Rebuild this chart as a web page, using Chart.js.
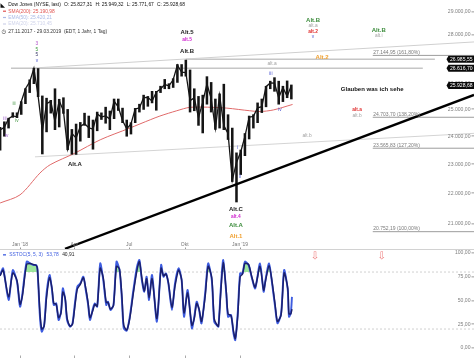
<!DOCTYPE html>
<html><head><meta charset="utf-8">
<script src="https://cdn.jsdelivr.net/npm/chart.js@4.4.1/dist/chart.umd.min.js"></script>
<style>
html,body{margin:0;padding:0;background:#fff;overflow:hidden}
#wrap{position:relative;width:474px;height:358px;background:#fff}
canvas{position:absolute;left:0}
#c1{top:0}
#c2{top:250px}
#sep{position:absolute;left:0;top:249px;width:474px;height:1px;background:#d2d2d2}
</style></head><body>
<div id="wrap"><canvas id="c1" width="474" height="249"></canvas><div id="sep"></div><canvas id="c2" width="474" height="108"></canvas></div>
<script>
// ---- data (x = days since 01.01.2018) ----
const weekDays = [-33,-26,-19,-12,-5,2,9,16,23,30,37,44,51,58,65,72,79,86,93,100,107,114,121,128,135,142,149,156,163,170,177,184,191,198,205,212,219,226,233,240,247,254,261,268,275,282,289,296,303,310,317,324,331,338,345,352,359,366,373,380,387,394,401,408,415,422,429,436,443,450];
const weekHigh = [24330,24534,24669,24876,24872,25300,25804,26154,26617,26608,25520,25432,25349,25800,25390,25450,25000,24250,24450,24510,24858,24750,24600,24900,24870,25086,24940,25400,25400,25050,24600,24500,25040,25200,25550,25500,25700,25700,25900,26170,26000,26200,26770,26770,26952,26550,25800,25500,25550,26280,26050,25400,25600,25980,24800,24300,23400,23500,24100,24750,24800,25250,25400,25900,26100,26240,26100,25900,26110,25950];
const weekLow = [23500,24000,24300,24700,24690,24810,25220,25650,26000,25490,23360,24160,24860,24240,24340,24850,23510,23350,23344,23820,24400,23950,23530,24200,24620,24480,24240,24650,24960,24500,24000,24080,24500,24900,25000,25120,25250,24970,25650,25800,25800,25850,26050,26300,26300,24900,24950,24400,24120,25200,24900,24250,24300,24240,23880,22400,21712,22638,23300,23900,24300,24500,24880,25100,25800,25700,25200,25300,25450,25400];
const weekClose = [24231,24329,24651,24754,24719,25295,25803,26071,26616,25520,24190,25219,25310,24538,25335,24946,23533,24103,23932,24360,24463,24311,24263,24831,24715,24753,24635,25317,25090,24581,24271,24456,25019,25058,25451,25463,25313,25669,25790,25965,25917,26155,26744,26458,26447,25340,25444,24688,25270,25989,25413,24285,25538,24389,24100,22445,23062,23433,23996,24706,24737,25064,25106,25883,26031,26026,25450,25849,25502,25929];

const smaDays = [-33,0,33,50,91,133,182,216,232,260,282,320,343,381,398,420,452];
const smaValues = [21680,21950,22690,22980,23390,23870,24300,24610,24750,24950,25080,25080,25050,24950,24920,24980,25191];

const stochDays = [-33,-28,-19,-12,-5,0,4,11,17,22,27,29,33,36,40,44,49,53,56,60,64,68,71,75,78,83,87,91,95,100,105,109,113,116,121,124,128,133,138,143,146,150,155,160,165,169,172,177,182,188,194,198,202,206,210,214,219,227,234,238,242,246,252,257,263,268,272,278,285,289,293,297,301,307,312,318,322,326,329,333,337,342,345,350,354,357,361,365,369,373,379,384,390,398,404,407,413,418,423,427,433,438,444,446,449,451];
const stochK = [76.9,83.9,50.5,82.1,69.8,43.5,57.6,90.9,89.1,87.4,87.4,82.1,33.0,17.2,24.2,57.6,76.9,61.1,45.3,47.0,29.5,38.3,62.8,50.5,29.5,22.5,26.0,47.0,64.6,68.1,75.1,61.1,45.3,29.5,41.8,47.0,43.5,89.1,71.6,45.3,48.8,40.0,45.3,90.9,82.1,50.5,20.7,18.3,33.0,61.1,85.6,92.6,71.6,59.3,75.1,50.5,76.9,27.7,87.4,75.1,78.6,68.1,40.0,68.1,83.9,71.6,33.0,61.1,20.7,33.0,48.8,40.0,26.0,57.6,89.1,71.6,27.7,24.2,22.5,62.8,92.6,57.6,33.0,34.7,15.4,8.4,36.5,78.6,78.6,90.9,87.4,75.1,62.8,89.1,59.3,71.6,89.1,68.1,43.5,26.0,36.5,82.1,61.1,33.0,36.5,53.78];
const stochD = [76,82,54,79,71,46,55,88,89,88,87,83,38,20,23,53,74,63,47,46,32,37,59,52,32,23,25,44,62,67,74,63,47,32,40,46,44,84,74,48,48,41,45,86,83,54,24,19,31,58,82,91,74,60,73,53,73,31,84,76,78,69,43,65,82,72,37,58,24,31,47,41,28,54,86,74,31,25,23,59,90,60,36,34,18,10,33,75,78,89,88,76,64,86,61,70,87,70,46,28,35,79,63,36,36,40.91];

const priceTicks = [21000,22000,23000,24000,25000,26000,27000,28000,29000];
const stochTicks = [0,25,50,75,100];
const stochLevels = [80,20];
const monthTicks = [0,90,181,273,365];
const monthLabels = ["Jan '18","Apr","Jul","Okt","Jan '19"];

const fibLevels = [27144.95,24703.70,23565.83,20752.19];
const fibLabels = ["27.144,95 (161,80%)","24.703,70 (138,20%)","23.565,83 (127,20%)","20.752,19 (100,00%)"];
const fibStartDay = 585;
const tagValues = [26985.55,26616.70,25928.68];
const hLineValues = [26985.55,26616.70];
const hLineStart = [275,-15];
const hLineEnd = [688,668];
const trendDays = [74.6,752.9];
const trendValues = [20219,25560];
const upperChannelDays = [24.8,752.9];
const upperChannelValues = [26632,27707];
const lowerChannelDays = [24.8,752.9];
const lowerChannelValues = [23258,24106];
const arrowDays = [489,600];
const arrowValue = 96;

// annotations: text, day, price, colour, style (1 bold big, 2 bold small, 0 small)
const notes = [
 ["3",28,27624,"#b04cc8",0],["5",28,27373,"#3c9a3c",0],["5",28,27165,"#3a3a6a",0],["v",28,26918,"#4a55d0",0],
 ["iii",-25,24643,"#9a5ac8",0],["iv",-22,24014,"#9a5ac8",0],["iii",-10,25212,"#4a9a4a",0],["iv",-5,24568,"#4a9a4a",0],
 ["Alt.A",91,22977,"#222",1],
 ["Alt.5",277,28133,"#222",1],["alt.5",277,27792,"#d028d0",2],["Alt.B",277,27331,"#222",1],
 ["Alt.B",486,28651,"#3c8c3c",1],["alt.a",486,28391,"#a0a0a0",0],["alt.2",486,28133,"#e02828",2],["v",486,27919,"#4a55d0",0],
 ["Alt.B",595,28219,"#3c8c3c",1],["alt.i",595,27962,"#a0a0a0",0],
 ["Alt.2",501,27082,"#f0a030",1],
 ["Glauben was ich sehe",584,25795,"#111",1],
 ["alt.a",559,24983,"#e03030",2],["alt.b",559,24756,"#a0a0a0",0],
 ["alt.a",418,26795,"#a0a0a0",0],["alt.b",476,24014,"#a0a0a0",0],
 ["iii",416,26390,"#4a55d0",0],["iv",431,24983,"#4a55d0",0],["i",361,23579,"#4a55d0",0],["ii",365,22561,"#4a55d0",0],
 ["Alt.C",358,21456,"#222",1],["alt.4",358,21228,"#d028d0",2],["Alt.A",358,20939,"#3c8c3c",1],["Alt.1",358,20592,"#f0a030",1]
];

const FONT = '"Liberation Sans", Arial, sans-serif';
const fmt = v => { const s = v.toFixed(2).split('.'); return s[0].replace(/\B(?=(\d{3})+(?!\d))/g,'.') + ',' + s[1]; };
const pts = (xs, ys) => xs.map((d,i)=>({x:d,y:ys[i]}));
const X_MIN = -33.2, X_MAX = 752.9;
const xOpts = {type:'linear', min:X_MIN, max:X_MAX, display:false, offset:false};
const base = {responsive:false, animation:false, devicePixelRatio:1, events:[], layout:{padding:0},
  plugins:{legend:{display:false}, tooltip:{enabled:false}},
  elements:{point:{radius:0}, line:{tension:0}}};

function flow(ctx, parts, x, yy, gap){
  parts.forEach(p=>{ ctx.fillStyle=p[1]; ctx.fillText(p[0], x, yy); x += ctx.measureText(p[0]).width + gap; });
}

const overlay1 = {
  id:'overlay1',
  afterDatasetsDraw(chart){
    const {ctx, chartArea, scales:{x,y}} = chart;
    ctx.save();
    ctx.font = '5px '+FONT; ctx.fillStyle = '#7a7a7a'; ctx.textAlign='left'; ctx.textBaseline='alphabetic';
    fibLevels.forEach((v,i)=>ctx.fillText(fibLabels[i], x.getPixelForValue(fibStartDay)+0.5, y.getPixelForValue(v)-1.5));
    ctx.textAlign='center'; ctx.textBaseline='middle';
    notes.forEach(n=>{
      ctx.font = (n[4]===1 ? 'bold 6px ' : n[4]===2 ? 'bold 4.8px ' : '4.8px ') + FONT;
      ctx.fillStyle = n[3];
      ctx.fillText(n[0], x.getPixelForValue(n[1]), y.getPixelForValue(n[2]));
    });
    ctx.font = '5px '+FONT;
    monthTicks.forEach((m,i)=>{
      const px = x.getPixelForValue(m);
      ctx.fillStyle='#777'; ctx.fillText(monthLabels[i], px, chartArea.bottom-4);
      ctx.fillStyle='#999'; ctx.fillRect(Math.round(px), chartArea.bottom-1.5, 1, 1.5);
    });
    ctx.font = '5.1px '+FONT; ctx.fillStyle='#808080'; ctx.textAlign='right';
    priceTicks.forEach(v=>{
      const py = y.getPixelForValue(v);
      ctx.fillText(fmt(v), 470.5, py);
      ctx.fillRect(471.5, Math.round(py)-0.5, 2.5, 0.8);
    });
    ctx.textAlign='center';
    tagValues.forEach(v=>{
      const py = y.getPixelForValue(v);
      const l=446.5, r=474, h=7, t=py-h/2;
      ctx.fillStyle='#0a0a0a';
      ctx.beginPath();
      ctx.moveTo(l, py); ctx.lineTo(l+2, t); ctx.lineTo(r, t); ctx.lineTo(r, t+h); ctx.lineTo(l+2, t+h); ctx.closePath();
      ctx.fill();
      ctx.fillStyle='#fff'; ctx.font='5.1px '+FONT;
      ctx.fillText(fmt(v), (l+r)/2+1, py+0.3);
    });
    // header
    ctx.textAlign='left'; ctx.textBaseline='middle';
    ctx.fillStyle='#111'; ctx.font='6px DejaVu Sans';
    ctx.fillText('\u25E3', 0.5, 5);
    ctx.font='4.9px '+FONT;
    flow(ctx, [['Dow Jones (NYSE, last)','#111'],['O: 25.827,31','#111'],['H: 25.949,32','#111'],['L: 25.771,67','#111'],['C: 25.928,68','#111']], 8.3, 5, 3.2);
    ctx.fillStyle='#e0524f'; ctx.fillRect(3,10.6,3,1.2);
    ctx.fillText('SMA(200): 25.190,98', 8.3, 11.2);
    ctx.fillStyle='#a9b9e6'; ctx.fillRect(3,16.9,3,1.2);
    ctx.fillText('EMA(50): 25.420,21', 8.3, 17.5);
    ctx.fillStyle='#cfd3ea'; ctx.fillRect(3,23.4,3,1.2);
    ctx.fillText('EMA(20): 25.710,45', 8.3, 24);
    ctx.fillStyle='#333';
    ctx.font='5.3px DejaVu Sans'; ctx.fillText('\u25F7', 1.5, 31.5);
    ctx.font='4.9px '+FONT;
    ctx.fillText('27.11.2017 - 29.03.2019  (EDT, 1 Jahr, 1 Tag)', 8.3, 31.5);
    ctx.restore();
  }
};

const lineDs = (data, color, width, order, extra) => Object.assign({type:'line', data, borderColor:color, borderWidth:width, order, pointRadius:0, fill:false}, extra||{});

const ds1 = [
  lineDs(pts(trendDays, trendValues), '#000', 2.4, 0),
  {type:'bar', data: weekDays.map((d,i)=>({x:d, y:[weekLow[i], weekHigh[i]]})), backgroundColor:'#151515', barThickness:1.9, order:1},
  lineDs(pts(weekDays, weekClose), '#151515', 1.3, 2),
  lineDs(pts(smaDays, smaValues), '#e06a6a', 1, 3, {tension:0.3}),
  lineDs(pts(upperChannelDays, upperChannelValues), '#d0d0d0', 1, 5),
  lineDs(pts(lowerChannelDays, lowerChannelValues), '#d4d4d4', 1, 5)
];
hLineValues.forEach((v,i)=>ds1.push(lineDs([{x:hLineStart[i],y:v},{x:hLineEnd[i],y:v}], '#c6c6c6', 1.6, 6)));
fibLevels.forEach(v=>ds1.push(lineDs([{x:fibStartDay,y:v},{x:X_MAX,y:v}], '#9c9c9c', 1, 6)));

new Chart(document.getElementById('c1'), {
  type:'line',
  data:{datasets: ds1},
  options: Object.assign({}, base, {scales:{x:xOpts, y:{type:'logarithmic', min:20212, max:29535, display:false}}}),
  plugins:[overlay1]
});

const overlay2 = {
  id:'overlay2',
  afterDatasetsDraw(chart){
    const {ctx, chartArea, scales:{x,y}} = chart;
    ctx.save();
    ctx.textBaseline='middle';
    ctx.fillStyle='#3d5ce0'; ctx.fillRect(3,4.2,3,1.3);
    ctx.font='4.9px '+FONT; ctx.textAlign='left';
    flow(ctx, [['SSTOC(5, 5, 3)','#3d5ce0'],[fmt(stochK[stochK.length-1]),'#3d5ce0'],[fmt(stochD[stochD.length-1]),'#222']], 9.3, 4.8, 3.5);
    ctx.font='5.1px '+FONT; ctx.fillStyle='#808080'; ctx.textAlign='right';
    stochTicks.forEach(v=>{
      const py = y.getPixelForValue(v);
      ctx.fillText(fmt(v), 470.5, py);
      ctx.fillRect(471.5, Math.round(py)-0.5, 2.5, 0.8);
    });
    ctx.fillStyle='#aaa';
    monthTicks.forEach(m=>ctx.fillRect(Math.round(x.getPixelForValue(m)), chartArea.bottom-2.5, 1, 2.5));
    ctx.font='10px DejaVu Sans'; ctx.fillStyle='#ee7d7d'; ctx.textAlign='center';
    arrowDays.forEach(d=>ctx.fillText('\u21E9', x.getPixelForValue(d), y.getPixelForValue(arrowValue)));
    ctx.restore();
  }
};

const ds2 = [
  lineDs(pts(stochDays, stochD), '#1b1f6b', 1.5, 0, {tension:0.25}),
  lineDs(pts(stochDays, stochK), '#3d5ce0', 1.9, 1, {tension:0.25, fill:{target:{value:80}, above:'rgba(140,226,140,0.85)', below:'rgba(0,0,0,0)'}})
];
stochLevels.forEach(v=>ds2.push(lineDs([{x:X_MIN,y:v},{x:X_MAX,y:v}], '#d0d0d0', 1, 5, {borderDash:[2,2]})));

new Chart(document.getElementById('c2'), {
  type:'line',
  data:{datasets: ds2},
  options: Object.assign({}, base, {scales:{x:xOpts, y:{type:'linear', min:-10.5, max:103.2, display:false}}}),
  plugins:[overlay2]
});
</script>
</body></html>
